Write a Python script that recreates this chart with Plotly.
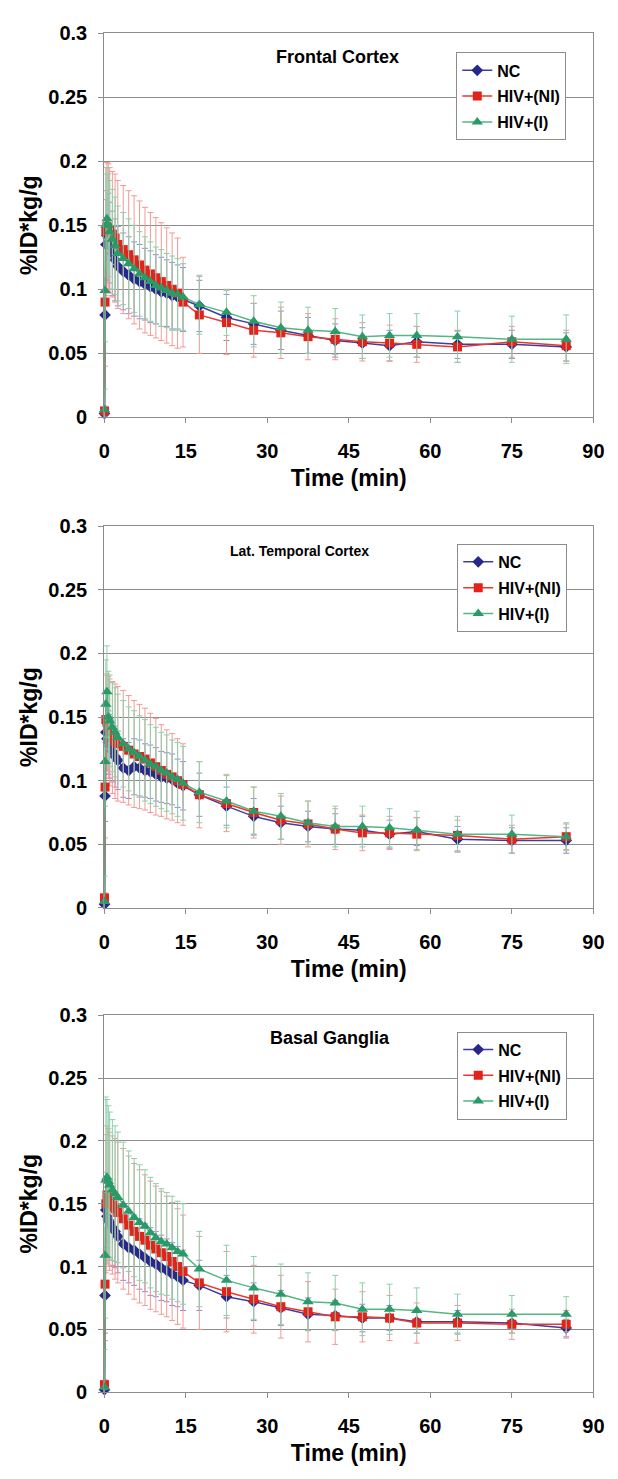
import plotly.graph_objects as go

# ---------------- data ----------------
TIME = [0.05, 0.15, 0.3, 0.5, 0.75, 1.0, 1.5, 2, 2.5, 3.5, 4.5, 5.5, 6.5, 7.5, 8.5, 9.5, 10.5,
        11.5, 12.5, 13.5, 14.5, 17.5, 22.5, 27.5, 32.5, 37.5, 42.5, 47.5, 52.5, 57.5, 65, 75, 85]

SERIES = ["NC", "HIV+(NI)", "HIV+(I)"]
PANEL_TITLES = ["Frontal Cortex", "Lat. Temporal Cortex", "Basal Ganglia"]

FC_NC = [0.003, 0.080, 0.135, 0.142, 0.140, 0.134, 0.128, 0.123, 0.118, 0.114, 0.111, 0.108, 0.106, 0.104, 0.102,
         0.100, 0.098, 0.097, 0.095, 0.094, 0.092, 0.087, 0.078, 0.073, 0.068, 0.064, 0.060, 0.058, 0.056, 0.059,
         0.057, 0.057, 0.055]
FC_NI = [0.005, 0.090, 0.145, 0.149, 0.148, 0.146, 0.143, 0.140, 0.135, 0.131, 0.127, 0.123, 0.119, 0.115, 0.112,
         0.109, 0.106, 0.103, 0.100, 0.097, 0.090, 0.080, 0.074, 0.068, 0.066, 0.063, 0.061, 0.059, 0.058, 0.057,
         0.055, 0.059, 0.056]
FC_I = [0.006, 0.099, 0.150, 0.155, 0.150, 0.145, 0.139, 0.134, 0.128, 0.124, 0.120, 0.116, 0.112, 0.109, 0.106,
        0.103, 0.101, 0.099, 0.097, 0.096, 0.094, 0.088, 0.082, 0.075, 0.070, 0.068, 0.067, 0.063, 0.064, 0.064,
        0.063, 0.061, 0.061]
FC_NC_SD = [0.002, 0.030, 0.035, 0.035, 0.035, 0.034, 0.033, 0.032, 0.031, 0.030, 0.030, 0.029, 0.029, 0.028, 0.028,
            0.027, 0.027, 0.026, 0.026, 0.025, 0.025, 0.020, 0.018, 0.016, 0.015, 0.014, 0.013, 0.012, 0.012, 0.012,
            0.011, 0.011, 0.011]
FC_NI_SD = [0.004, 0.050, 0.050, 0.050, 0.050, 0.049, 0.049, 0.050, 0.050, 0.050, 0.050, 0.050, 0.050, 0.049, 0.048,
            0.047, 0.046, 0.045, 0.044, 0.043, 0.035, 0.030, 0.025, 0.021, 0.020, 0.018, 0.016, 0.015, 0.014, 0.014,
            0.012, 0.012, 0.012]
FC_I_SD = [0.016, 0.040, 0.040, 0.040, 0.040, 0.040, 0.039, 0.038, 0.037, 0.036, 0.035, 0.034, 0.033, 0.032, 0.031,
           0.030, 0.030, 0.029, 0.029, 0.028, 0.026, 0.023, 0.018, 0.020, 0.020, 0.018, 0.018, 0.017, 0.017, 0.017,
           0.020, 0.018, 0.019]

LTC_NC = [0.003, 0.088, 0.138, 0.133, 0.130, 0.127, 0.123, 0.119, 0.116, 0.110, 0.108, 0.111, 0.110, 0.108, 0.107,
          0.105, 0.103, 0.102, 0.101, 0.098, 0.096, 0.089, 0.080, 0.072, 0.067, 0.064, 0.062, 0.061, 0.058, 0.060,
          0.054, 0.053, 0.053]
LTC_NI = [0.008, 0.095, 0.148, 0.146, 0.142, 0.138, 0.134, 0.131, 0.129, 0.127, 0.124, 0.121, 0.119, 0.117, 0.114,
          0.111, 0.108, 0.105, 0.103, 0.100, 0.097, 0.089, 0.082, 0.075, 0.069, 0.066, 0.062, 0.059, 0.059, 0.058,
          0.057, 0.054, 0.056]
LTC_I = [0.005, 0.115, 0.160, 0.170, 0.150, 0.147, 0.142, 0.138, 0.134, 0.129, 0.125, 0.122, 0.119, 0.116, 0.113,
         0.111, 0.108, 0.106, 0.103, 0.101, 0.098, 0.091, 0.084, 0.076, 0.072, 0.067, 0.064, 0.064, 0.063, 0.061,
         0.058, 0.058, 0.056]
LTC_NC_SD = [0.002, 0.020, 0.025, 0.025, 0.025, 0.025, 0.024, 0.024, 0.023, 0.023, 0.022, 0.022, 0.022, 0.021, 0.021,
             0.021, 0.020, 0.020, 0.020, 0.019, 0.019, 0.017, 0.015, 0.014, 0.013, 0.012, 0.012, 0.011, 0.011, 0.011,
             0.010, 0.010, 0.010]
LTC_NI_SD = [0.004, 0.040, 0.035, 0.038, 0.040, 0.042, 0.044, 0.045, 0.045, 0.044, 0.043, 0.042, 0.041, 0.040, 0.039,
             0.038, 0.036, 0.035, 0.034, 0.033, 0.032, 0.026, 0.022, 0.020, 0.019, 0.018, 0.016, 0.014, 0.013, 0.013,
             0.012, 0.011, 0.010]
LTC_I_SD = [0.020, 0.035, 0.035, 0.036, 0.036, 0.036, 0.035, 0.035, 0.034, 0.034, 0.033, 0.033, 0.032, 0.032, 0.031,
            0.031, 0.030, 0.030, 0.029, 0.029, 0.029, 0.024, 0.021, 0.019, 0.018, 0.017, 0.016, 0.016, 0.015, 0.015,
            0.014, 0.015, 0.011]

BG_NC = [0.002, 0.077, 0.145, 0.140, 0.137, 0.135, 0.131, 0.128, 0.124, 0.118, 0.115, 0.113, 0.110, 0.107, 0.104,
         0.102, 0.099, 0.097, 0.094, 0.092, 0.089, 0.085, 0.076, 0.072, 0.067, 0.062, 0.061, 0.059, 0.059, 0.056,
         0.056, 0.055, 0.051]
BG_NI = [0.006, 0.086, 0.150, 0.157, 0.155, 0.152, 0.149, 0.146, 0.143, 0.138, 0.133, 0.128, 0.124, 0.121, 0.117,
         0.114, 0.111, 0.108, 0.104, 0.100, 0.096, 0.087, 0.080, 0.074, 0.068, 0.064, 0.060, 0.060, 0.059, 0.055,
         0.055, 0.054, 0.054]
BG_I = [0.004, 0.109, 0.169, 0.171, 0.168, 0.165, 0.161, 0.158, 0.155, 0.149, 0.144, 0.139, 0.135, 0.132, 0.127,
        0.123, 0.120, 0.118, 0.115, 0.112, 0.110, 0.098, 0.089, 0.083, 0.078, 0.072, 0.071, 0.066, 0.066, 0.065,
        0.062, 0.062, 0.062]
BG_NC_SD = [0.002, 0.030, 0.030, 0.030, 0.030, 0.030, 0.030, 0.029, 0.029, 0.029, 0.028, 0.028, 0.028, 0.027, 0.027,
            0.026, 0.026, 0.025, 0.025, 0.024, 0.024, 0.020, 0.017, 0.015, 0.014, 0.013, 0.012, 0.011, 0.010, 0.009,
            0.009, 0.008, 0.007]
BG_NI_SD = [0.004, 0.045, 0.055, 0.055, 0.055, 0.055, 0.055, 0.056, 0.056, 0.056, 0.055, 0.054, 0.053, 0.052, 0.051,
            0.050, 0.049, 0.048, 0.047, 0.046, 0.045, 0.037, 0.032, 0.027, 0.025, 0.024, 0.022, 0.020, 0.018, 0.016,
            0.014, 0.012, 0.011]
BG_I_SD = [0.030, 0.050, 0.066, 0.062, 0.060, 0.058, 0.056, 0.054, 0.052, 0.050, 0.048, 0.047, 0.046, 0.045, 0.044,
           0.043, 0.042, 0.041, 0.041, 0.040, 0.040, 0.030, 0.028, 0.025, 0.024, 0.023, 0.022, 0.021, 0.020, 0.018,
           0.016, 0.015, 0.014]

X_TICKS = [0, 15, 30, 45, 60, 75, 90]
Y_TICKS = [0, 0.05, 0.1, 0.15, 0.2, 0.25, 0.3]
Y_TICK_LABELS = ["0", "0.05", "0.1", "0.15", "0.2", "0.25", "0.3"]

PANELS = [
    ([FC_NC, FC_NI, FC_I], [FC_NC_SD, FC_NI_SD, FC_I_SD]),
    ([LTC_NC, LTC_NI, LTC_I], [LTC_NC_SD, LTC_NI_SD, LTC_I_SD]),
    ([BG_NC, BG_NI, BG_I], [BG_NC_SD, BG_NI_SD, BG_I_SD]),
]

# ---------------- styling ----------------
W, H = 618, 1479
FONT = "Liberation Sans, Arial, sans-serif"
MARKER_COL = ["#27278C", "#E3231B", "#2A9A68"]
LINE_COL = ["#3E3EA0", "#E8392E", "#55B685"]
ERR_COL = ["#8E8ECB", "#F29A94", "#8CD0AB"]
SYMBOLS = ["diamond", "square", "triangle-up"]
SIZES = [9, 9, 10]

X_DOM = [101 / W, 604 / W]
ROWS = [(22.5, 412.5), (523, 910.5), (1019.5, 1402)]
TITLE_POS = [(341, 47, 18), (302, 548, 14), (333, 1043, 18)]
LEGEND_POS = [(463, 42), (464, 541), (464, 1036)]

fig = go.Figure()
for p, (vals, sds) in enumerate(PANELS):
    sfx = "" if p == 0 else str(p + 1)
    for s in range(3):
        fig.add_trace(go.Scatter(
            x=TIME, y=vals[s], name=SERIES[s], mode="lines+markers",
            xaxis="x" + sfx, yaxis="y" + sfx,
            legend="legend" + sfx, legendgroup=f"g{p}{s}",
            line=dict(color=LINE_COL[s], width=1.5),
            marker=dict(symbol=SYMBOLS[s], size=SIZES[s], color=MARKER_COL[s], line=dict(width=0)),
            error_y=dict(type="data", array=sds[s], visible=True, color=ERR_COL[s], thickness=1, width=3),
            cliponaxis=False,
        ))

layout = dict(
    width=W, height=H, margin=dict(l=0, r=0, t=0, b=0),
    paper_bgcolor="white", plot_bgcolor="white",
    font=dict(family=FONT, color="black"),
    annotations=[],
)
axis_col = "#8C8C8C"
for p in range(3):
    sfx = "" if p == 0 else str(p + 1)
    top, bot = ROWS[p]
    layout["xaxis" + sfx] = dict(
        domain=X_DOM, anchor="y" + sfx, range=[0, 90], tickvals=X_TICKS,
        showgrid=False, zeroline=False, showline=True, linecolor=axis_col, linewidth=1, mirror=True,
        ticks="outside", ticklen=5, tickcolor=axis_col,
        tickfont=dict(size=20, weight="bold", family=FONT), ticklabelstandoff=11,
        title=dict(text="Time (min)", font=dict(size=23, weight="bold", family=FONT), standoff=8),
    )
    layout["yaxis" + sfx] = dict(
        domain=[1 - bot / H, 1 - top / H], anchor="x" + sfx, range=[0, 0.3],
        tickvals=Y_TICKS, ticktext=Y_TICK_LABELS,
        showgrid=True, gridcolor=axis_col, gridwidth=1, zeroline=False,
        showline=True, linecolor=axis_col, linewidth=1, mirror=True,
        ticks="outside", ticklen=5, tickcolor=axis_col,
        tickfont=dict(size=20, weight="bold", family=FONT), ticklabelstandoff=7,
        title=dict(text="%ID*kg/g", font=dict(size=23, weight="bold", family=FONT), standoff=4),
    )
    lx, ly = LEGEND_POS[p]
    layout["legend" + sfx] = dict(
        x=lx / W, y=1 - ly / H, xanchor="left", yanchor="top",
        bgcolor="white", bordercolor="#8C8C8C", borderwidth=1,
        font=dict(size=16, weight="bold", family=FONT), tracegroupgap=2,
        itemwidth=30,
    )
    tx, ty, ts = TITLE_POS[p]
    layout["annotations"].append(dict(
        text=PANEL_TITLES[p], x=tx / W, y=1 - ty / H, xref="paper", yref="paper",
        xanchor="center", yanchor="middle", showarrow=False,
        font=dict(size=ts, weight="bold", family=FONT),
    ))

fig.update_layout(**layout)
fig.write_html(
    "out.html",
    config={"displayModeBar": False},
    post_script="document.body.style.margin='0';document.body.style.padding='0';"
                "document.documentElement.style.overflow='hidden';",
)
